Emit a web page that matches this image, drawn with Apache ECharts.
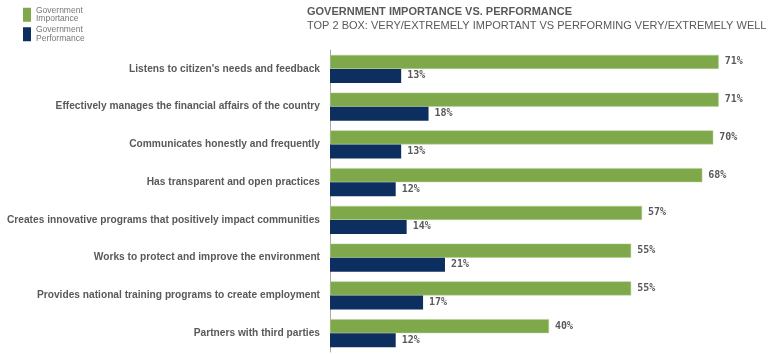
<!DOCTYPE html>
<html>
<head>
<meta charset="utf-8">
<script src="https://cdn.jsdelivr.net/npm/echarts@6/dist/echarts.min.js"></script>
<style>html,body{margin:0;padding:0;background:#fff;}#c{width:771px;height:354px;}</style>
</head>
<body>
<div id="c"></div>
<script>
var categories = [
  "Listens to citizen's needs and feedback",
  "Effectively manages the financial affairs of the country",
  "Communicates honestly and frequently",
  "Has transparent and open practices",
  "Creates innovative programs that positively impact communities",
  "Works to protect and improve the environment",
  "Provides national training programs to create employment",
  "Partners with third parties"
];
var importance = [71, 71, 70, 68, 57, 55, 55, 40];
var performance = [13, 18, 13, 12, 14, 21, 17, 12];
var seriesNames = ["Government\nImportance", "Government\nPerformance"];
var titleText = "GOVERNMENT IMPORTANCE VS. PERFORMANCE";
var subtitleText = "TOP 2 BOX: VERY/EXTREMELY IMPORTANT VS PERFORMING VERY/EXTREMELY WELL";

var chart = echarts.init(document.getElementById('c'), null, {renderer: 'canvas'});
var labelStyle = {
  show: true, position: 'right', distance: 6,
  formatter: function (p) { return p.value + '%'; },
  fontFamily: 'DejaVu Sans Mono', fontSize: 10, fontWeight: 'bold', color: '#595959'
};
chart.setOption({
  animation: false,
  title: {
    text: titleText, subtext: subtitleText,
    left: 302, top: 1, itemGap: 3,
    textStyle: {fontFamily: 'Liberation Sans', fontSize: 11, fontWeight: 'bold', color: '#595959'},
    subtextStyle: {fontFamily: 'Liberation Sans', fontSize: 11, color: '#595959'}
  },
  legend: {
    orient: 'vertical', left: 18, top: 1, itemWidth: 8, itemHeight: 14, itemGap: 2,
    icon: 'rect',
    itemStyle: {borderWidth: 0},
    textStyle: {fontFamily: 'Liberation Sans', fontSize: 8.5, lineHeight: 8.5, color: '#777'},
    data: seriesNames
  },
  grid: {left: 330, top: 50, right: 3, bottom: 2, containLabel: false},
  xAxis: {type: 'value', min: 0, max: 80, show: false},
  yAxis: {
    type: 'category', data: categories, inverse: true,
    axisLine: {show: true, lineStyle: {color: '#aaa', width: 1}},
    axisTick: {show: false},
    axisLabel: {fontFamily: 'Liberation Sans', fontSize: 10.2, fontWeight: 'bold', color: '#595959', margin: 10}
  },
  series: [
    {name: seriesNames[0], type: 'bar', data: importance, barWidth: 14, barGap: '0%',
     itemStyle: {color: '#7ea84a', borderColor: '#b8cc98', borderWidth: 0.5}, label: labelStyle},
    {name: seriesNames[1], type: 'bar', data: performance, barWidth: 14, barGap: '0%',
     itemStyle: {color: '#0d2f5f'}, label: labelStyle}
  ]
});
</script>
</body>
</html>
